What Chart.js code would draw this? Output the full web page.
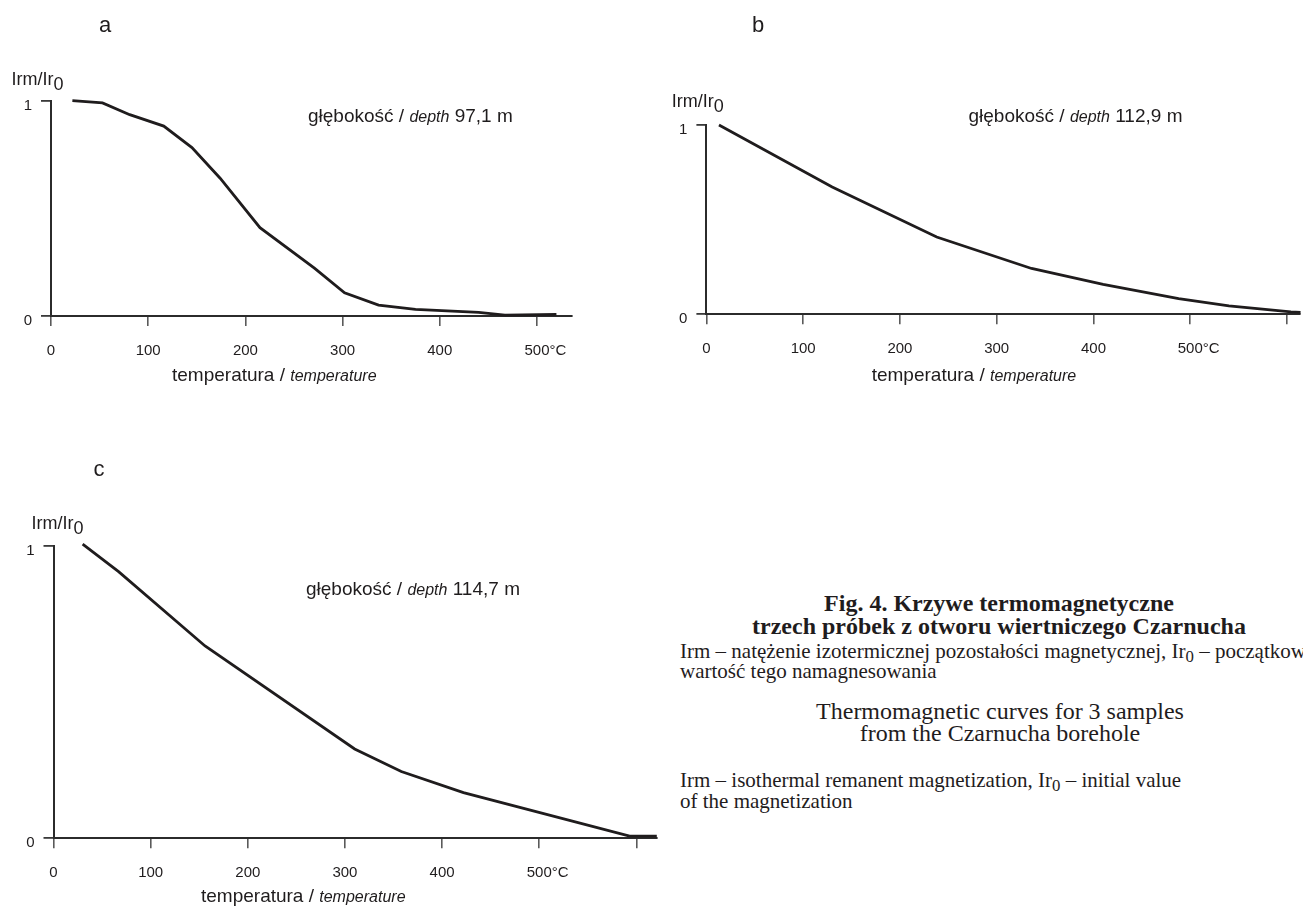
<!DOCTYPE html>
<html>
<head>
<meta charset="utf-8">
<title>Krzywe termomagnetyczne</title>
<script src="https://cdn.jsdelivr.net/npm/chart.js@4.4.1/dist/chart.umd.min.js"></script>
<style>
  html, body { margin: 0; padding: 0; background: #fff; overflow: hidden; }
  body { width: 1303px; height: 910px; position: relative; }
  canvas { position: absolute; }
  #chartA { left: 0; top: 0; }
  #chartB { left: 640px; top: 0; }
  #chartC { left: 0; top: 440px; }
  .cap { position: absolute; font-family: "Liberation Serif", "Times New Roman", serif; color: #1f1c1d; white-space: nowrap; }
  .cap sub { font-size: 0.8em; vertical-align: -0.25em; line-height: 0; }
  #capTitle { left: 699px; width: 600px; top: 592px; font-size: 24px; line-height: 23px; font-weight: bold; text-align: center; }
  #capPl { left: 680px; top: 641px; font-size: 21px; line-height: 20px; }
  #capEnTitle { left: 700px; width: 600px; top: 700px; font-size: 24px; line-height: 22px; text-align: center; }
  #capEn { left: 680px; top: 770px; font-size: 21px; line-height: 21px; }
</style>
</head>
<body>
<canvas id="chartA" width="640" height="420"></canvas>
<canvas id="chartB" width="663" height="420"></canvas>
<canvas id="chartC" width="660" height="470"></canvas>

<div class="cap" id="capTitle">Fig. 4. Krzywe termomagnetyczne<br>trzech próbek z otworu wiertniczego Czarnucha</div>
<div class="cap" id="capPl">Irm – natężenie izotermicznej pozostałości magnetycznej, Ir<sub>0</sub> – początkowa<br>wartość tego namagnesowania</div>
<div class="cap" id="capEnTitle">Thermomagnetic curves for 3 samples<br>from the Czarnucha borehole</div>
<div class="cap" id="capEn">Irm – isothermal remanent magnetization, Ir<sub>0</sub> – initial value<br>of the magnetization</div>

<script>
// temperature ticks (°C)
const tempTicks = [0, 100, 200, 300, 400, 500, 600];
const irmTicks = [0, 1];

// a - depth 97,1 m
const tempA = [22, 53, 81, 116, 145, 174, 215, 271, 302, 337, 375, 440, 467, 520];
const irmA = [1.0, 0.99, 0.935, 0.882, 0.782, 0.64, 0.41, 0.222, 0.108, 0.051, 0.031, 0.017, 0.004, 0.008];

// b - depth 112,9 m
const tempB = [13, 130, 238, 336, 410, 488, 540, 604, 614];
const irmB = [1.0, 0.672, 0.408, 0.242, 0.158, 0.083, 0.044, 0.013, 0.01];

// c - depth 114,7 m
const tempC = [30, 67, 156, 310, 358, 422, 593, 621];
const irmC = [1.005, 0.911, 0.657, 0.305, 0.228, 0.156, 0.007, 0.007];

const SANS = '"Liberation Sans", Arial, sans-serif';
const TICK_LEN = 10;
const X_PAD = 16;
const TICK_FONT = 15;

// texts drawn on the canvas, runs of different fonts on one baseline
const panelText = {
  id: 'panelText',
  afterDraw(chart, args, opts) {
    const ctx = chart.ctx;
    ctx.save();
    ctx.fillStyle = '#1f1c1d';
    ctx.textAlign = 'left';
    ctx.textBaseline = 'alphabetic';
    opts.items.forEach(item => {
      let x = item.x - opts.dx;
      if (item.center) {
        let w = 0;
        item.runs.forEach(r => { ctx.font = r.font; w += ctx.measureText(r.text).width; });
        x -= w / 2;
      }
      item.runs.forEach(r => {
        ctx.font = r.font;
        ctx.fillText(r.text, x, item.y - opts.dy + (r.dy || 0));
        x += ctx.measureText(r.text).width;
      });
    });
    // unit after the 500 label
    const sx = chart.scales.x;
    const px = sx.getPixelForValue(500);
    ctx.font = TICK_FONT + 'px ' + SANS;
    const w = ctx.measureText('500').width;
    ctx.textBaseline = 'middle';
    ctx.fillText('°C', px + w / 2, sx.top + TICK_LEN + X_PAD + TICK_FONT * 0.6);
    ctx.restore();
  }
};

function texts(letter, lx, ly, ix, iy, depth, dx, dy, tx, ty) {
  return [
    { x: lx, y: ly, center: true, runs: [{ text: letter, font: '22px ' + SANS }] },
    { x: ix, y: iy, runs: [{ text: 'Irm/Ir', font: '18px ' + SANS }, { text: '0', font: '18px ' + SANS, dy: 5 }] },
    { x: dx, y: dy, runs: [
      { text: 'głębokość / ', font: '19px ' + SANS },
      { text: 'depth', font: 'italic 16px ' + SANS },
      { text: ' ' + depth, font: '19px ' + SANS }
    ] },
    { x: tx, y: ty, runs: [
      { text: 'temperatura / ', font: '19px ' + SANS },
      { text: 'temperature', font: 'italic 16px ' + SANS }
    ] }
  ];
}

function makeChart(id, temps, irm, xMax, pad, offset, items) {
  const ctx = document.getElementById(id).getContext('2d');
  return new Chart(ctx, {
    type: 'line',
    data: {
      datasets: [{
        data: temps.map((t, i) => ({ x: t, y: irm[i] })),
        borderColor: '#1f1c1d',
        borderWidth: 2.8,
        pointRadius: 0,
        tension: 0,
        clip: false
      }]
    },
    options: {
      responsive: false,
      animation: false,
      devicePixelRatio: 1,
      layout: { padding: pad },
      plugins: {
        legend: { display: false },
        tooltip: { enabled: false },
        panelText: { items: items, dx: offset[0], dy: offset[1] }
      },
      scales: {
        x: {
          type: 'linear',
          min: 0,
          max: xMax,
          afterFit: s => { s.height = 40; },
          afterBuildTicks: s => { s.ticks = tempTicks.filter(v => v <= xMax).map(v => ({ value: v })); },
          border: { display: true, color: '#2b2b2b', width: 2 },
          grid: { drawOnChartArea: false, drawTicks: true, tickLength: TICK_LEN, color: '#5a5a5a', lineWidth: 1.6 },
          ticks: {
            autoSkip: false,
            maxRotation: 0,
            padding: X_PAD,
            color: '#1f1c1d',
            font: { family: SANS, size: TICK_FONT },
            callback: v => (v <= 500 ? String(v) : '')
          }
        },
        y: {
          min: 0,
          max: 1,
          afterFit: s => { s.width = 40; },
          afterBuildTicks: s => { s.ticks = irmTicks.map(v => ({ value: v })); },
          border: { display: true, color: '#2b2b2b', width: 2 },
          grid: { drawOnChartArea: false, drawTicks: true, tickLength: TICK_LEN, color: '#3a3a3a', lineWidth: 1.8 },
          ticks: {
            padding: 9,
            labelOffset: 5,
            color: '#1f1c1d',
            font: { family: SANS, size: TICK_FONT }
          }
        }
      }
    },
    plugins: [panelText]
  });
}

makeChart('chartA', tempA, irmA, 535.4,
  { left: 11, right: 68.6, top: 100.7, bottom: 64 }, [0, 0],
  texts('a', 105, 32, 11.5, 85, '97,1 m', 308, 122, 172, 381));

makeChart('chartB', tempB, irmB, 613.5,
  { left: 26.4, right: 0, top: 125, bottom: 65.7 }, [640, 0],
  texts('b', 758, 32, 671.7, 107, '112,9 m', 968.5, 122, 871.7, 381));

makeChart('chartC', tempC, irmC, 620.8,
  { left: 13.5, right: 3.4, top: 105.6, bottom: 31.8 }, [0, 440],
  texts('c', 99, 476, 31.6, 529, '114,7 m', 306, 595, 201, 902));
</script>
</body>
</html>
